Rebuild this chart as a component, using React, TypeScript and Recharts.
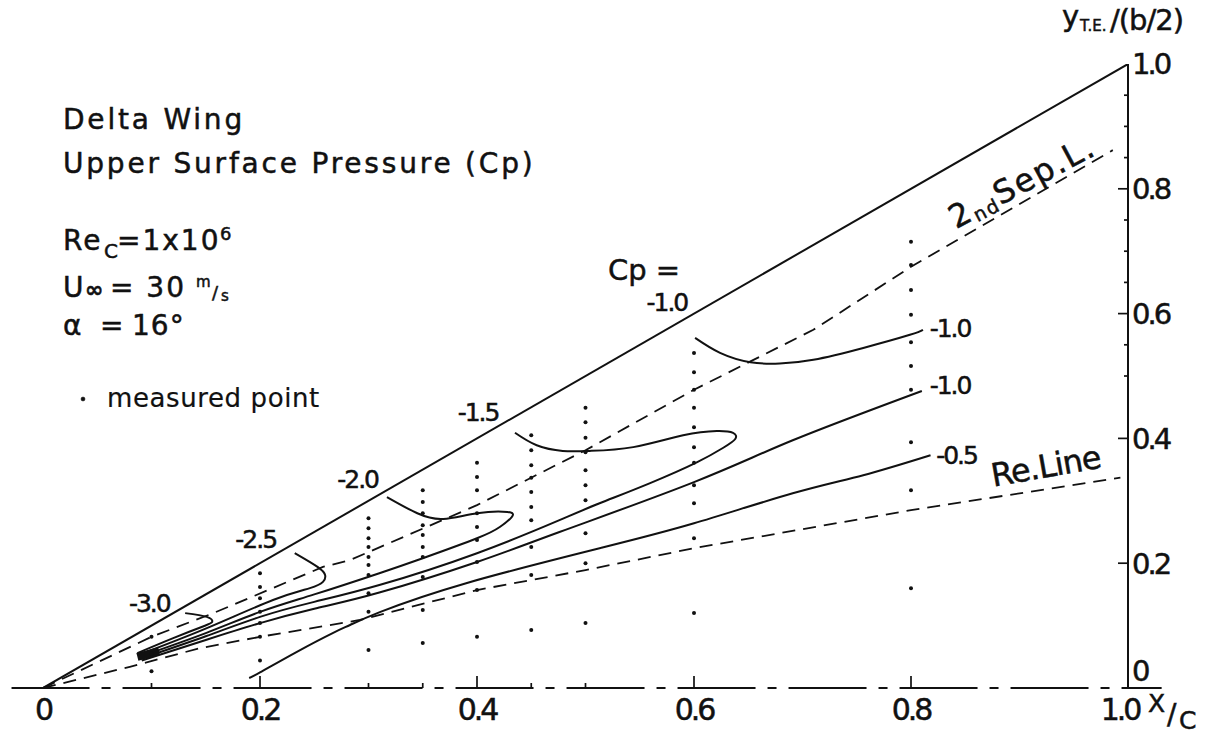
import { ComposedChart, XAxis, YAxis, Line, Scatter, ReferenceLine } from "recharts";

// x/c and y/(b/2) pairs
const leadingEdge = [[0, 0], [1, 1]];
const secondSepLine = [
  [0, 0], [0.1, 0.082], [0.157, 0.12], [0.258, 0.194], [0.283, 0.205], [0.4, 0.293],
  [0.476, 0.36], [0.5, 0.381], [0.6, 0.478], [0.71, 0.574], [0.8, 0.675], [0.986, 0.862],
];
const reLine = [
  [0, 0], [0.08, 0.034], [0.145, 0.064], [0.2, 0.082], [0.292, 0.109], [0.4, 0.157],
  [0.5, 0.189], [0.6, 0.224], [0.8, 0.285], [0.993, 0.337],
];

// Cp contours
const cpMinus30 = [[0.087, 0.056], [0.12, 0.08], [0.148, 0.099], [0.156, 0.106], [0.151, 0.114], [0.131, 0.12]];
const cpMinus25 = [
  [0.088, 0.053], [0.151, 0.096], [0.212, 0.141], [0.246, 0.16], [0.258, 0.17],
  [0.26, 0.181], [0.253, 0.194], [0.232, 0.216],
];
const cpMinus20 = [
  [0.089, 0.05], [0.15, 0.088], [0.2, 0.122], [0.25, 0.15], [0.31, 0.184], [0.35, 0.208],
  [0.4, 0.24], [0.421, 0.258], [0.432, 0.274], [0.428, 0.282], [0.4, 0.28], [0.369, 0.271],
  [0.345, 0.28], [0.317, 0.306],
];
const cpMinus15 = [
  [0.09, 0.047], [0.15, 0.083], [0.2, 0.114], [0.25, 0.138], [0.31, 0.165], [0.4, 0.216],
  [0.476, 0.269], [0.513, 0.296], [0.559, 0.328], [0.603, 0.362], [0.627, 0.385],
  [0.638, 0.399], [0.636, 0.409], [0.621, 0.412], [0.59, 0.405], [0.544, 0.386],
  [0.504, 0.38], [0.479, 0.38], [0.455, 0.389], [0.435, 0.409],
];
const cpMinus10Inner = [
  [0.091, 0.044], [0.15, 0.077], [0.2, 0.104], [0.25, 0.127], [0.31, 0.153], [0.4, 0.202],
  [0.476, 0.25], [0.6, 0.33], [0.691, 0.397], [0.81, 0.476],
];
const cpMinus10Outer = [
  [0.601, 0.561], [0.624, 0.537], [0.652, 0.522], [0.679, 0.52], [0.71, 0.526],
  [0.756, 0.545], [0.799, 0.566], [0.811, 0.574],
];
const cpMinus05 = [
  [0.19, 0.016], [0.2, 0.025], [0.234, 0.058], [0.267, 0.088], [0.283, 0.101], [0.311, 0.122],
  [0.39, 0.168], [0.513, 0.224], [0.6, 0.264], [0.691, 0.312], [0.756, 0.341], [0.818, 0.373],
];
const apexBundle = [[0.087, 0.05], [0.107, 0.059]];

// measurement stations and the measured points on each
const stations = [0.1, 0.2, 0.3, 0.35, 0.4, 0.45, 0.5, 0.6, 0.8];
const stationPoints = [
  [0.082, 0.055, 0.027],
  [0.184, 0.162, 0.144, 0.122, 0.104, 0.082, 0.044],
  [0.272, 0.256, 0.24, 0.226, 0.21, 0.197, 0.181, 0.152, 0.122, 0.061],
  [0.317, 0.298, 0.28, 0.261, 0.245, 0.226, 0.21, 0.178, 0.125, 0.072],
  [0.361, 0.338, 0.317, 0.28, 0.258, 0.237, 0.202, 0.157, 0.082],
  [0.405, 0.381, 0.357, 0.337, 0.314, 0.29, 0.269, 0.226, 0.181, 0.093],
  [0.449, 0.426, 0.401, 0.378, 0.349, 0.325, 0.301, 0.248, 0.2, 0.104],
  [0.537, 0.506, 0.478, 0.449, 0.418, 0.386, 0.361, 0.325, 0.296, 0.24, 0.12],
  [0.715, 0.678, 0.638, 0.598, 0.554, 0.516, 0.478, 0.394, 0.317, 0.16],
];

const contourLabels = [
  { x: 0.098, y: 0.136, text: "-3.0" },
  { x: 0.196, y: 0.239, text: "-2.5" },
  { x: 0.29, y: 0.335, text: "-2.0" },
  { x: 0.401, y: 0.442, text: "-1.5" },
  { x: 0.575, y: 0.619, text: "-1.0" },
  { x: 0.836, y: 0.577, text: "-1.0" },
  { x: 0.836, y: 0.486, text: "-1.0" },
  { x: 0.842, y: 0.373, text: "-0.5" },
];
const cpTitle = [{ x: 0.554, y: 0.67, text: "Cp =" }];
const sepLabel = [{ x: 0.902, y: 0.812 }];
const reLabel = [{ x: 0.924, y: 0.356 }];

const xTicks = [0, 0.1, 0.2, 0.3, 0.35, 0.4, 0.45, 0.5, 0.6, 0.8, 1.0];
const xLabels = [0, 0.2, 0.4, 0.6, 0.8, 1.0];
const yTicks = [0, 0.2, 0.4, 0.5, 0.55, 0.6, 0.65, 0.7, 0.75, 0.8, 0.85, 0.9, 0.95, 1.0];
const yLabels = [0, 0.2, 0.4, 0.6, 0.8, 1.0];

const pts = (a: number[][]) => a.map(([x, y]) => ({ x, y }));
const measured = stations.flatMap((s, i) => stationPoints[i].map((y) => ({ x: s, y })));
const fmt = (v: number) => (v === 0 ? "0" : v.toFixed(1));

const INK = "#111";
const FONT = "DejaVu Sans, sans-serif";
// a thin outline makes the glyphs as heavy as the lettering in the original
const HEAVY = { stroke: INK, strokeWidth: 0.5 };

function XTick(props: any) {
  const { x, y, payload } = props;
  const v = payload.value;
  const labelled = xLabels.includes(v);
  const len = v === 0 || v === 1 ? 0 : labelled ? 12 : 5;
  return (
    <g>
      {len > 0 && <line x1={x} x2={x} y1={y} y2={y - len} stroke={INK} strokeWidth={1.7} />}
      {labelled && (
        <text
          x={v === 1 ? x - 8 : x}
          y={y + 32}
          textAnchor="middle"
          fontSize={30}
          fontFamily={FONT}
          letterSpacing={-3}
          fill={INK}
          {...HEAVY}
        >
          {fmt(v)}
        </text>
      )}
    </g>
  );
}

function YTick(props: any) {
  const { x, y, payload } = props;
  const v = payload.value;
  const labelled = yLabels.includes(v);
  const len = v === 0 || v === 1 ? 0 : labelled ? 10 : 4;
  return (
    <g>
      {len > 0 && <line x1={x - len} x2={x} y1={y} y2={y} stroke={INK} strokeWidth={1.7} />}
      {labelled && (
        <text
          x={x + 4}
          y={v === 0 ? y - 17 : y}
          dy="0.36em"
          fontSize={29}
          fontFamily={FONT}
          letterSpacing={-3}
          fill={INK}
          {...HEAVY}
        >
          {fmt(v)}
        </text>
      )}
    </g>
  );
}

const contourLine = (key: string, data: number[][], width = 2) => (
  <Line
    key={key}
    data={pts(data)}
    dataKey="y"
    type="natural"
    stroke={INK}
    strokeWidth={width}
    dot={false}
    activeDot={false}
    isAnimationActive={false}
  />
);

export default function App() {
  return (
    <div style={{ position: "absolute", left: 0, top: 0, width: 1212, height: 738, background: "#fff" }}>
      <ComposedChart width={1212} height={738} margin={{ top: 64, right: 14, bottom: 0, left: 43 }}>
        <XAxis
          type="number"
          dataKey="x"
          domain={[0, 1]}
          allowDataOverflow
          ticks={xTicks}
          interval={0}
          tick={<XTick />}
          tickLine={false}
          tickSize={0}
          tickMargin={0}
          axisLine={false}
          height={50}
        />
        <YAxis
          type="number"
          dataKey="y"
          orientation="right"
          domain={[0, 1]}
          allowDataOverflow
          ticks={yTicks}
          interval={0}
          tick={<YTick />}
          tickLine={false}
          tickSize={0}
          tickMargin={0}
          axisLine={{ stroke: INK, strokeWidth: 2 }}
          width={70}
        />
        <ReferenceLine
          segment={[{ x: -0.029, y: 0 }, { x: 1.031, y: 0 }]}
          ifOverflow="visible"
          stroke={INK}
          strokeWidth={1.8}
          strokeDasharray="78 12 9 12"
        />
        <Line data={pts(leadingEdge)} dataKey="y" type="linear" stroke={INK} strokeWidth={2} dot={false} isAnimationActive={false} />
        <Line data={pts(secondSepLine)} dataKey="y" type="linear" stroke={INK} strokeWidth={1.8} strokeDasharray="13 8" dot={false} isAnimationActive={false} />
        <Line data={pts(reLine)} dataKey="y" type="linear" stroke={INK} strokeWidth={1.8} strokeDasharray="13 8" dot={false} isAnimationActive={false} />
        {contourLine("c30", cpMinus30)}
        {contourLine("c25", cpMinus25)}
        {contourLine("c20", cpMinus20)}
        {contourLine("c15", cpMinus15)}
        {contourLine("c10i", cpMinus10Inner)}
        {contourLine("c10o", cpMinus10Outer)}
        {contourLine("c05", cpMinus05)}
        <Line data={pts(apexBundle)} dataKey="y" type="linear" stroke={INK} strokeWidth={8} dot={false} isAnimationActive={false} />
        <Scatter
          data={measured}
          dataKey="y"
          isAnimationActive={false}
          shape={(p: any) => <circle cx={p.cx} cy={p.cy} r={2} fill={INK} />}
        />
        <Scatter
          data={contourLabels}
          dataKey="y"
          isAnimationActive={false}
          shape={(p: any) => (
            <text x={p.cx} y={p.cy} dy="0.36em" textAnchor="middle" fontSize={25} fontFamily={FONT} letterSpacing={-2} fill={INK} {...HEAVY}>
              {p.payload.text}
            </text>
          )}
        />
        <Scatter
          data={cpTitle}
          dataKey="y"
          isAnimationActive={false}
          shape={(p: any) => (
            <text x={p.cx} y={p.cy} dy="0.36em" textAnchor="middle" fontSize={29} fontFamily={FONT} fill={INK} {...HEAVY}>
              {p.payload.text}
            </text>
          )}
        />
        <Scatter
          data={sepLabel}
          dataKey="y"
          isAnimationActive={false}
          shape={(p: any) => (
            <text
              x={p.cx}
              y={p.cy}
              dy="0.36em"
              textAnchor="middle"
              fontSize={32}
              fontFamily={FONT}
              letterSpacing={2}
              fill={INK}
              {...HEAVY}
              transform={`rotate(-28 ${p.cx} ${p.cy})`}
            >
              2<tspan fontSize={19} dy={4}>nd</tspan>
              <tspan dy={-4}>Sep.L.</tspan>
            </text>
          )}
        />
        <Scatter
          data={reLabel}
          dataKey="y"
          isAnimationActive={false}
          shape={(p: any) => (
            <text
              x={p.cx}
              y={p.cy}
              dy="0.36em"
              textAnchor="middle"
              fontSize={32}
              fontFamily={FONT}
              letterSpacing={-1}
              fill={INK}
              {...HEAVY}
              transform={`rotate(-10 ${p.cx} ${p.cy})`}
            >
              Re.Line
            </text>
          )}
        />
      </ComposedChart>

      <svg
        width={1212}
        height={738}
        style={{ position: "absolute", left: 0, top: 0, pointerEvents: "none" }}
        fontFamily={FONT}
        fill={INK}
        stroke={INK}
        strokeWidth={0.5}
      >
        <text x={63} y={129} fontSize={28} letterSpacing={2.8}>Delta Wing</text>
        <text x={63} y={173} fontSize={28} letterSpacing={2.8}>Upper Surface Pressure (Cp)</text>
        <text fontSize={28}>
          <tspan x={63} y={250} letterSpacing={2}>Re</tspan>
          <tspan x={104} y={258} fontSize={20}>C</tspan>
          <tspan x={117} y={250} letterSpacing={2}>=1x10</tspan>
          <tspan x={220} y={240} fontSize={18}>6</tspan>
        </text>
        <text fontSize={28}>
          <tspan x={63} y={297}>U</tspan>
          <tspan x={85} y={297} fontSize={22} fontWeight="bold">∞</tspan>
          <tspan x={110} y={297} letterSpacing={2}>= 30</tspan>
          <tspan x={196} y={287} fontSize={15}>m</tspan>
          <tspan x={212} y={299} fontSize={18}>/</tspan>
          <tspan x={221} y={301} fontSize={15}>s</tspan>
        </text>
        <text fontSize={28}>
          <tspan x={63} y={335}>α</tspan>
          <tspan x={100} y={335}>=</tspan>
          <tspan x={132} y={335} letterSpacing={1}>16°</tspan>
        </text>
        <circle cx={83} cy={399} r={2} />
        <text x={107} y={407} fontSize={26} letterSpacing={0.6} strokeWidth={0.2}>measured point</text>

        <text fontSize={29}>
          <tspan x={1062} y={26}>y</tspan>
          <tspan x={1080} y={31} fontSize={15}>T.E.</tspan>
          <tspan x={1110} y={30} letterSpacing={-1}>/(b/2)</tspan>
        </text>
        <text x={1148} y={712} fontSize={25}>X</text>
        <text x={1167} y={724} fontSize={28}>/</text>
        <text x={1179} y={729} fontSize={25}>C</text>
      </svg>
    </div>
  );
}
